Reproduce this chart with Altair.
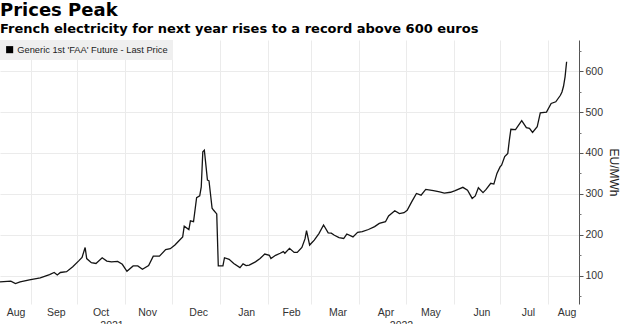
import altair as alt
import pandas as pd

# ---- data ----
dates = [
    "2021-08-12", "2021-08-19", "2021-08-22", "2021-08-25", "2021-08-31",
    "2021-09-07", "2021-09-13", "2021-09-16", "2021-09-18", "2021-09-20",
    "2021-09-24", "2021-09-28", "2021-10-02", "2021-10-04", "2021-10-06",
    "2021-10-07", "2021-10-10", "2021-10-13", "2021-10-17", "2021-10-20",
    "2021-10-23", "2021-10-27", "2021-10-30", "2021-11-02", "2021-11-06",
    "2021-11-09", "2021-11-12", "2021-11-16", "2021-11-19", "2021-11-23",
    "2021-11-27", "2021-11-30", "2021-12-03", "2021-12-05", "2021-12-08",
    "2021-12-09", "2021-12-12", "2021-12-13", "2021-12-15", "2021-12-17",
    "2021-12-19", "2021-12-20", "2021-12-21", "2021-12-22", "2021-12-24",
    "2021-12-25", "2021-12-27", "2021-12-28", "2021-12-30", "2021-12-31",
    "2022-01-03", "2022-01-04", "2022-01-07", "2022-01-10", "2022-01-14",
    "2022-01-16", "2022-01-18", "2022-01-20", "2022-01-24", "2022-01-27",
    "2022-01-30", "2022-02-02", "2022-02-03", "2022-02-06", "2022-02-09",
    "2022-02-11", "2022-02-12", "2022-02-15", "2022-02-18", "2022-02-20",
    "2022-02-23", "2022-02-25", "2022-02-26", "2022-02-28", "2022-03-03",
    "2022-03-06", "2022-03-09", "2022-03-12", "2022-03-14", "2022-03-16",
    "2022-03-19", "2022-03-22", "2022-03-24", "2022-03-28", "2022-03-31",
    "2022-04-03", "2022-04-07", "2022-04-11", "2022-04-14", "2022-04-18",
    "2022-04-20", "2022-04-24", "2022-04-27", "2022-04-30", "2022-05-02",
    "2022-05-05", "2022-05-08", "2022-05-11", "2022-05-14", "2022-05-19",
    "2022-05-23", "2022-05-26", "2022-05-30", "2022-06-02", "2022-06-07",
    "2022-06-10", "2022-06-13", "2022-06-15", "2022-06-17", "2022-06-20",
    "2022-06-22", "2022-06-25", "2022-06-27", "2022-06-29", "2022-07-01",
    "2022-07-02", "2022-07-04", "2022-07-06", "2022-07-07", "2022-07-08",
    "2022-07-11", "2022-07-15", "2022-07-18", "2022-07-20", "2022-07-22",
    "2022-07-25", "2022-07-27", "2022-07-31", "2022-08-03", "2022-08-06",
    "2022-08-09", "2022-08-10", "2022-08-11", "2022-08-12", "2022-08-13",
]
values = [
    85, 87, 81, 85, 90,
    95, 103, 108, 102, 108,
    110, 122, 137, 145, 169,
    142, 132, 130, 144, 136,
    134, 135, 128, 111, 124,
    124, 116, 125, 148, 148,
    164, 166, 175, 183, 195,
    221, 213, 234, 232, 291,
    295, 317, 403, 407, 334,
    332, 265, 260, 251, 124,
    124, 144, 140, 130, 120,
    129, 125, 126, 134, 142,
    153, 150, 142, 150, 155,
    159, 155, 167, 157, 157,
    169, 190, 210, 175, 187,
    203, 224, 205, 204, 199,
    193, 191, 202, 195, 206,
    208, 213, 220, 228, 232,
    246, 259, 252, 254, 260,
    281, 301, 297, 311, 308,
    305, 302, 304, 308, 316,
    309, 289, 295, 315, 303,
    311, 326, 324, 350, 366,
    370, 391, 399, 431, 458,
    457, 479, 462, 460, 450,
    464, 498, 500, 521, 525,
    541, 549, 563, 586, 623,
]
series_name = "Generic 1st 'FAA' Future - Last Price"

month_starts = [
    "2021-09-01", "2021-10-01", "2021-11-01", "2021-12-01", "2022-01-01",
    "2022-02-01", "2022-03-01", "2022-04-01", "2022-05-01", "2022-06-01",
    "2022-07-01", "2022-08-01",
]
month_label_dates = [
    "2021-08-22", "2021-09-17", "2021-10-16", "2021-11-15", "2021-12-18",
    "2022-01-18", "2022-02-16", "2022-03-18", "2022-04-18", "2022-05-17",
    "2022-06-19", "2022-07-19", "2022-08-13",
]
year_label_dates = ["2021-10-23", "2022-04-28"]
x_domain = ["2021-08-12", "2022-08-21"]
y_domain = [31, 676]
y_ticks = [100, 200, 300, 400, 500, 600]
y_minor_ticks = [50, 150, 250, 350, 450, 550, 650]


def dt(s):
    y, m, d = (int(p) for p in s.split("-"))
    return alt.DateTime(year=y, month=m, date=d)


df = pd.DataFrame({"date": dates, "value": values})
df["series"] = series_name

COND = "Liberation Sans, Arial, sans-serif"
GRID = "#ebebeb"

xscale = alt.Scale(domain=[dt(s) for s in x_domain])
yscale = alt.Scale(domain=y_domain, nice=False, zero=False)

base = alt.Chart(df)

line = base.mark_line(strokeWidth=1.3).encode(
    x=alt.X("date:T", scale=xscale, title=None,
            axis=alt.Axis(orient="bottom", values=[dt(s) for s in month_starts],
                          grid=True, gridColor=GRID, gridWidth=1,
                          labels=False, ticks=False, domain=False)),
    y=alt.Y("value:Q", scale=yscale, title="EU/MWh",
            axis=alt.Axis(orient="right", values=y_ticks, grid=True,
                          gridColor=GRID, gridWidth=1, domain=True,
                          domainColor="#555", domainWidth=1,
                          tickColor="#555", tickSize=4, tickWidth=1,
                          labelFont=COND, labelFontSize=10.5,
                          labelColor="#333", labelPadding=2,
                          titleFont=COND, titleFontSize=12,
                          titleFontWeight="normal", titleColor="#222",
                          titlePadding=4, titleAngle=90)),
    color=alt.Color("series:N", scale=alt.Scale(range=["#141414"]),
                    legend=alt.Legend(orient="top-left", title=None,
                                      offset=0, padding=5,
                                      fillColor="#efefef",
                                      symbolType="square", symbolSize=50,
                                      symbolFillColor="#000",
                                      symbolStrokeWidth=0,
                                      labelFont=COND, labelFontSize=9.3,
                                      labelLimit=400,
                                      labelColor="#222", labelOffset=3)),
)

months = base.mark_line(opacity=0).encode(
    x=alt.X("date:T", scale=xscale, title=None,
            axis=alt.Axis(orient="bottom",
                          values=[dt(s) for s in month_label_dates],
                          format="%b", grid=False, ticks=False, domain=False,
                          labelFont=COND, labelFontSize=10.5,
                          labelColor="#333", labelPadding=3)),
    y=alt.Y("value:Q", scale=yscale, axis=None),
)

years = base.mark_line(opacity=0).encode(
    x=alt.X("date:T", scale=xscale, title=None,
            axis=alt.Axis(orient="bottom",
                          values=[dt(s) for s in year_label_dates],
                          format="%Y", grid=False, ticks=False, domain=False,
                          labelFont=COND, labelFontSize=10.5,
                          labelColor="#333", labelPadding=16)),
    y=alt.Y("value:Q", scale=yscale, axis=None),
)

minor = base.mark_line(opacity=0).encode(
    x=alt.X("date:T", scale=xscale, axis=None),
    y=alt.Y("value:Q", scale=yscale,
            axis=alt.Axis(orient="right", values=y_minor_ticks, grid=False,
                          labels=False, domain=False, tickColor="#777",
                          tickSize=2, tickWidth=1, title=None)),
)

chart = alt.layer(line, months, years, minor).resolve_axis(
    x="independent", y="independent"
).properties(
    width=579,
    height=264,
    padding={"left": 0, "top": 40, "right": 43, "bottom": 20},
    autosize=alt.AutoSizeParams(type="none"),
    background="white",
    title=alt.TitleParams(
        text="Prices Peak",
        subtitle="French electricity for next year rises to a record above 600 euros",
        anchor="start", frame="group", offset=4,
        font="DejaVu Sans", fontSize=18, fontWeight="bold", color="#000",
        subtitleFont="DejaVu Sans", subtitleFontSize=13,
        subtitleFontWeight="bold", subtitleColor="#000",
        subtitlePadding=3,
    ),
).configure_view(stroke=None)

chart.save("out.html", embed_options={"renderer": "svg", "actions": False})
